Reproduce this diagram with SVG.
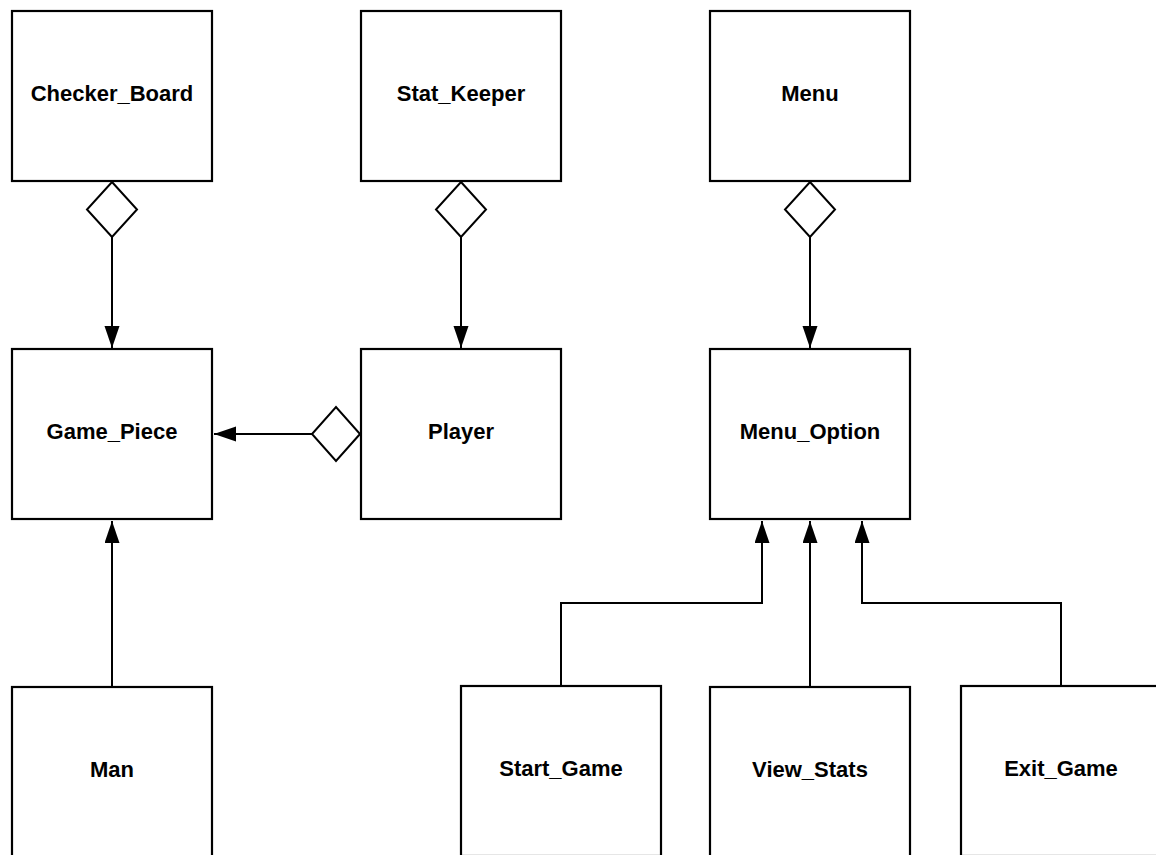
<svg xmlns="http://www.w3.org/2000/svg" width="1156" height="855" viewBox="0 0 1156 855">
<style>
.box{fill:#fff;stroke:#000;stroke-width:2.2}
.lbl{font-family:"Liberation Sans",Arial,sans-serif;font-weight:bold;font-size:22px;fill:#000;text-anchor:middle}
.ln{fill:none;stroke:#000;stroke-width:2}
.dia{fill:#fff;stroke:#000;stroke-width:2}
</style>
<defs>
<marker id="arr" markerUnits="userSpaceOnUse" markerWidth="24" markerHeight="16" refX="22" refY="7.5" orient="auto">
<path d="M0,0 L22,7.5 L0,15 Z" fill="#000"/>
</marker>
</defs>
<rect width="1156" height="855" fill="#fff"/>
<g id="checker_board"><rect class="box" x="12" y="11" width="200" height="170"/><text class="lbl" x="112" y="101">Checker_Board</text></g>
<g id="stat_keeper"><rect class="box" x="361" y="11" width="200" height="170"/><text class="lbl" x="461" y="101">Stat_Keeper</text></g>
<g id="menu"><rect class="box" x="710" y="11" width="200" height="170"/><text class="lbl" x="810" y="101">Menu</text></g>
<g id="game_piece"><rect class="box" x="12" y="349" width="200" height="170"/><text class="lbl" x="112" y="439">Game_Piece</text></g>
<g id="player"><rect class="box" x="361" y="349" width="200" height="170"/><text class="lbl" x="461" y="439">Player</text></g>
<g id="menu_option"><rect class="box" x="710" y="349" width="200" height="170"/><text class="lbl" x="810" y="439">Menu_Option</text></g>
<g id="man"><rect class="box" x="12" y="687" width="200" height="170"/><text class="lbl" x="112" y="777">Man</text></g>
<g id="start_game"><rect class="box" x="461" y="686" width="200" height="170"/><text class="lbl" x="561" y="776">Start_Game</text></g>
<g id="view_stats"><rect class="box" x="710" y="687" width="200" height="170"/><text class="lbl" x="810" y="777">View_Stats</text></g>
<g id="exit_game"><rect class="box" x="961" y="686" width="200" height="170"/><text class="lbl" x="1061" y="776">Exit_Game</text></g>
<g id="connectors">
<path class="ln" d="M112,237 V348" marker-end="url(#arr)"/>
<polygon class="dia" points="112,182 137,209.5 112,237 87,209.5"/>
<path class="ln" d="M461,237 V348" marker-end="url(#arr)"/>
<polygon class="dia" points="461,182 486,209.5 461,237 436,209.5"/>
<path class="ln" d="M810,237 V348" marker-end="url(#arr)"/>
<polygon class="dia" points="810,182 835,209.5 810,237 785,209.5"/>
<path class="ln" d="M312,434 H214" marker-end="url(#arr)"/>
<polygon class="dia" points="360,434 336,461 312,434 336,407"/>
<path class="ln" d="M112,687 V521" marker-end="url(#arr)"/>
<path class="ln" d="M561,686 V603 H762 V521" marker-end="url(#arr)"/>
<path class="ln" d="M810,687 V521" marker-end="url(#arr)"/>
<path class="ln" d="M1061,686 V603 H862 V521" marker-end="url(#arr)"/>
</g>
</svg>
